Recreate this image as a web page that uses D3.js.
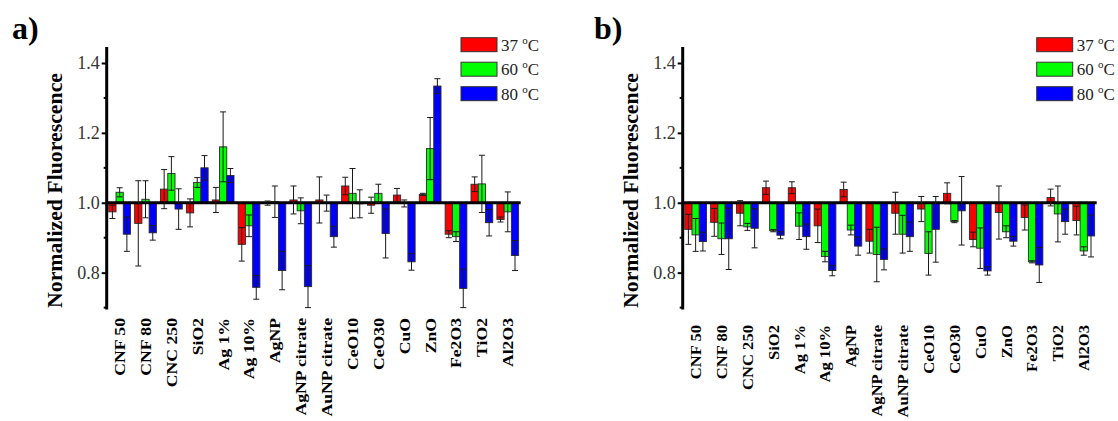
<!DOCTYPE html>
<html>
<head>
<meta charset="utf-8">
<script src="https://cdn.jsdelivr.net/npm/d3@7"></script>
<style>
  body { margin: 0; background: #fff; }
  text { font-family: "Liberation Serif", "Times New Roman", serif; }
</style>
</head>
<body>
<div id="viz"></div>
<script>
// categorias del eje x (las mismas en los dos paneles)
const categories = ["CNF 50", "CNF 80", "CNC 250", "SiO2", "Ag 1%", "Ag 10%", "AgNP", "AgNP citrate",
  "AuNP citrate", "CeO10", "CeO30", "CuO", "ZnO", "Fe2O3", "TiO2", "Al2O3"];
const seriesNames = ["37", "60", "80"];
const yMajorTicks = [0.8, 1.0, 1.2, 1.4];
const yMinorTicks = [0.7, 0.9, 1.1, 1.3];

// panel a)
const a37 = [0.974, 0.941, 1.039, 0.971, 1.008, 0.881, 0.999, 1.008, 1.008, 1.048, 0.993, 1.022, 1.024, 0.910, 1.053, 0.952];
const a37err = [0.019, 0.122, 0.056, 0.040, 0.036, 0.048, 0.006, 0.040, 0.066, 0.025, 0.023, 0.019, 0.003, 0.010, 0.021, 0.007];
const a60 = [1.030, 1.010, 1.084, 1.058, 1.160, 0.934, 1.003, 0.977, 0.999, 1.027, 1.027, 0.998, 1.155, 0.903, 1.054, 0.974];
const a60err = [0.013, 0.053, 0.048, 0.014, 0.100, 0.031, 0.045, 0.037, 0.023, 0.071, 0.026, 0.010, 0.089, 0.014, 0.082, 0.057];
const a80 = [0.910, 0.914, 0.982, 1.100, 1.078, 0.758, 0.806, 0.760, 0.903, 0.997, 0.912, 0.831, 1.334, 0.755, 0.943, 0.849];
const a80err = [0.049, 0.021, 0.058, 0.035, 0.020, 0.034, 0.055, 0.060, 0.030, 0.040, 0.070, 0.024, 0.021, 0.055, 0.038, 0.043];

// panel b)
const b37 = [0.924, 0.944, 0.970, 1.043, 1.043, 0.934, 1.038, 0.890, 0.970, 0.982, 1.027, 0.895, 0.972, 0.958, 1.015, 0.949];
const b37err = [0.043, 0.040, 0.036, 0.019, 0.017, 0.048, 0.021, 0.034, 0.060, 0.036, 0.030, 0.021, 0.076, 0.036, 0.024, 0.041];
const b60 = [0.908, 0.897, 0.931, 0.920, 0.933, 0.846, 0.922, 0.852, 0.910, 0.855, 0.946, 0.870, 0.917, 0.831, 0.968, 0.862];
const b60err = [0.047, 0.045, 0.010, 0.003, 0.038, 0.015, 0.014, 0.078, 0.054, 0.062, 0.003, 0.058, 0.017, 0.003, 0.080, 0.012];
const b80 = [0.889, 0.897, 0.927, 0.907, 0.903, 0.806, 0.876, 0.838, 0.903, 0.924, 0.977, 0.805, 0.890, 0.822, 0.946, 0.905];
const b80err = [0.027, 0.088, 0.056, 0.010, 0.036, 0.015, 0.026, 0.030, 0.042, 0.094, 0.098, 0.012, 0.014, 0.050, 0.036, 0.060];

const colors = ["#ff0000", "#00ff00", "#0000ff"];

const W = 1118, H = 421;
const svg = d3.select('#viz').append('svg')
  .attr('width', W).attr('height', H);

const drawPanel = (opts) => {
  const {left, letter, letterX, vals, errs, labelTop, labelStretch, legendX} = opts;
  const plotW = 414;
  const g = svg.append('g');

  const x0 = d3.scaleBand().domain(categories).range([left, left + plotW])
    .paddingInner(0.16).paddingOuter(0.08);
  const x1 = d3.scaleBand().domain(seriesNames).range([0, x0.bandwidth()]);
  const y = d3.scaleLinear().domain([0.7, 1.442]).range([307.6, 48.3]);

  // barras desde la linea base 1.0
  seriesNames.forEach((s, si) => {
    g.append('g').selectAll('rect')
      .data(categories.map((c, i) => ({c, v: vals[si][i]})))
      .join('rect')
      .attr('x', d => x0(d.c) + x1(s))
      .attr('width', x1.bandwidth())
      .attr('y', d => y(Math.max(d.v, 1)))
      .attr('height', d => Math.abs(y(d.v) - y(1)))
      .attr('fill', colors[si])
      .attr('stroke', '#2a2a2a')
      .attr('stroke-width', 0.9);
  });

  // linea de 1.0
  g.append('line')
    .attr('x1', left).attr('x2', left + plotW)
    .attr('y1', y(1)).attr('y2', y(1))
    .attr('stroke', '#000').attr('stroke-width', 3);

  // barras de error
  seriesNames.forEach((s, si) => {
    const eg = g.append('g').attr('stroke', '#1a1a1a').attr('stroke-width', 1).attr('fill', 'none');
    categories.forEach((c, i) => {
      const v = vals[si][i], e = errs[si][i];
      const cx = x0(c) + x1(s) + x1.bandwidth() / 2;
      const cap = 3;
      eg.append('line').attr('x1', cx).attr('x2', cx).attr('y1', y(v + e)).attr('y2', y(v - e));
      eg.append('line').attr('x1', cx - cap).attr('x2', cx + cap).attr('y1', y(v + e)).attr('y2', y(v + e));
      eg.append('line').attr('x1', cx - cap).attr('x2', cx + cap).attr('y1', y(v - e)).attr('y2', y(v - e));
    });
  });

  // eje y
  const yAxis = d3.axisLeft(y).tickValues(yMajorTicks).tickFormat(d3.format('.1f')).tickSize(5).tickSizeOuter(0);
  const ax = g.append('g').attr('transform', `translate(${left},0)`).call(yAxis);
  ax.select('.domain').remove();
  ax.selectAll('.tick line').attr('stroke', '#000').attr('stroke-width', 2);
  ax.selectAll('.tick text')
    .attr('x', -7)
    .attr('font-size', 18)
    .attr('fill', '#333')
    .attr('font-family', '"Liberation Serif", serif');
  g.append('g').selectAll('line').data(yMinorTicks).join('line')
    .attr('x1', left - 3).attr('x2', left)
    .attr('y1', d => y(d)).attr('y2', d => y(d))
    .attr('stroke', '#000').attr('stroke-width', 2);
  g.append('line')
    .attr('x1', left).attr('x2', left)
    .attr('y1', 47).attr('y2', 309.5)
    .attr('stroke', '#000').attr('stroke-width', 3);

  // titulo eje y
  g.append('text')
    .attr('transform', `translate(${left - 52},190.5) rotate(-90)`)
    .attr('text-anchor', 'middle')
    .attr('dy', '0.35em')
    .attr('font-size', 20)
    .attr('font-weight', 'bold')
    .attr('textLength', 235)
    .attr('lengthAdjust', 'spacingAndGlyphs')
    .text('Normalized Fluorescence');

  // etiquetas del eje x, giradas
  g.append('g').selectAll('text').data(categories).join('text')
    .attr('transform', d => `translate(${x0(d) + x0.bandwidth() / 2},${labelTop}) rotate(-90) scale(${labelStretch},1)`)
    .attr('text-anchor', 'end')
    .attr('dy', '0.35em')
    .attr('font-size', 15.5)
    .attr('font-weight', 'bold')
    .text(d => d);

  // letra del panel
  g.append('text')
    .attr('x', letterX).attr('y', 39)
    .attr('font-size', 32)
    .attr('font-weight', 'bold')
    .text(letter);

  // leyenda
  const leg = g.append('g');
  seriesNames.forEach((s, si) => {
    const yy = 37.7 + si * 24.5;
    leg.append('rect')
      .attr('x', legendX).attr('y', yy)
      .attr('width', 36).attr('height', 14)
      .attr('fill', colors[si])
      .attr('stroke', '#333').attr('stroke-width', 1);
    const t = leg.append('text')
      .attr('x', legendX + 40).attr('y', yy + 13)
      .attr('font-size', 17)
      .attr('fill', '#222');
    t.append('tspan').text(s + ' ');
    t.append('tspan').attr('font-size', 11).attr('dy', -7).text('o');
    t.append('tspan').attr('dy', 7).text('C');
  });
};

drawPanel({left: 106.7, letter: 'a)', letterX: 12, vals: [a37, a60, a80], errs: [a37err, a60err, a80err],
  labelTop: 318, labelStretch: 1.14, legendX: 461});
drawPanel({left: 682.7, letter: 'b)', letterX: 594, vals: [b37, b60, b80], errs: [b37err, b60err, b80err],
  labelTop: 325, labelStretch: 1.07, legendX: 1036.7});
</script>
</body>
</html>
